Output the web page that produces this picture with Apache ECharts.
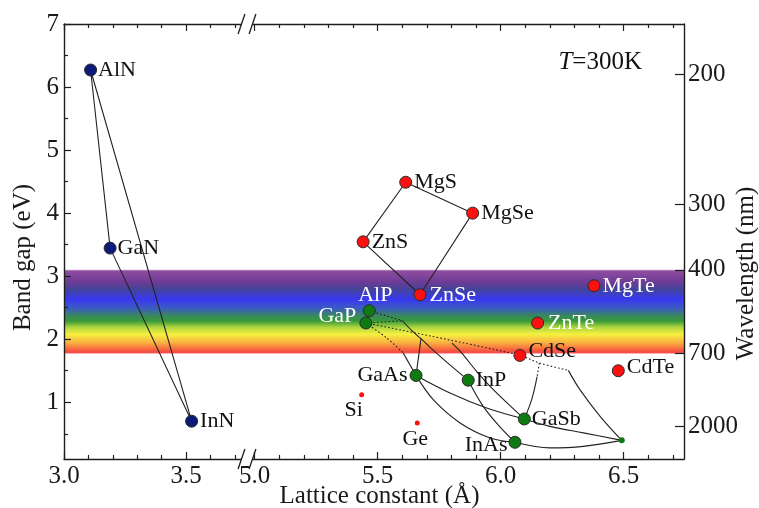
<!DOCTYPE html>
<html><head><meta charset="utf-8">
<script src="https://cdn.jsdelivr.net/npm/echarts@6/dist/echarts.min.js"></script>
<style>html,body{margin:0;padding:0;background:#fff}#c{width:759px;height:508px}</style>
</head><body><div id="c"></div>
<script>
// ---------------- data ----------------
const nitrideNames = ['AlN', 'GaN', 'InN'];
const nitrideA     = [3.109, 3.189, 3.523];
const nitrideGap   = [6.27, 3.445, 0.70];

const iiviNames = ['MgS', 'MgSe', 'ZnS', 'ZnSe', 'MgTe', 'ZnTe', 'CdSe', 'CdTe'];
const iiviA     = [5.614, 5.886, 5.441, 5.672, 6.379, 6.150, 6.078, 6.478];
const iiviGap   = [4.49, 4.00, 3.545, 2.705, 2.848, 2.257, 1.743, 1.50];

const iiivNames = ['AlP', 'GaP', 'GaAs', 'InP', 'GaSb', 'InAs'];
const iiivA     = [5.466, 5.452, 5.656, 5.868, 6.096, 6.058];
const iiivGap   = [2.452, 2.257, 1.426, 1.350, 0.735, 0.365];

const elemNames = ['Si', 'Ge'];
const elemA     = [5.435, 5.661];
const elemGap   = [1.12, 0.672];

const insbA   = [6.492];   // small unlabeled green point
const insbGap = [0.396];

// alloy lines: [lattice constant, gap]
const dotAlPJ1    = [[5.466, 2.452], [5.601, 2.293]];
const dotGaPJ1    = [[5.452, 2.257], [5.601, 2.293]];
const dotGaPJ3    = [[5.452, 2.257], [6.070, 1.754], [6.157, 1.623], [6.275, 1.506]];
const dotGaPGaAs  = [[5.452, 2.257], [5.537, 2.019], [5.604, 1.781]];
const solGaPGaAs  = [[5.604, 1.781], [5.631, 1.596], [5.656, 1.426]];
const solJ1InP    = [[5.601, 2.293], [5.639, 2.135], [5.676, 2.008], [5.737, 1.786], [5.802, 1.564], [5.868, 1.350]];
const solBrGaAs   = [[5.676, 2.008], [5.656, 1.426]];
const solToGaSb   = [[5.802, 1.937], [5.842, 1.781], [5.902, 1.490], [5.970, 1.200], [6.096, 0.735]];
const solGaAsGaSb = [[5.656, 1.426], [5.794, 1.147], [5.943, 0.910], [6.096, 0.735]];
const solGaAsInAs = [[5.656, 1.426], [5.726, 1.041], [5.835, 0.672], [5.957, 0.434], [6.058, 0.365]];
const solInPInAs  = [[5.868, 1.350], [5.929, 0.935], [5.997, 0.609], [6.058, 0.365]];
const dotJ2GaSb   = [[6.157, 1.623], [6.148, 1.406]];
const solJ2GaSb   = [[6.148, 1.406], [6.126, 1.041], [6.096, 0.735]];
const solJ3InSb   = [[6.275, 1.506], [6.322, 1.200], [6.404, 0.777], [6.492, 0.396]];
const solInAsInSb = [[6.058, 0.365], [6.200, 0.276], [6.336, 0.301], [6.492, 0.396]];
const solGaSbInSb = [[6.096, 0.735], [6.200, 0.618], [6.336, 0.514], [6.492, 0.396]];

// axes
const xMajorLeft  = [3.0, 3.5];
const xMinorLeft  = [3.1, 3.2, 3.3, 3.4, 3.6, 3.7];
const xMajorRight = [5.0, 5.5, 6.0, 6.5];
const xMinorRight = [5.1, 5.2, 5.3, 5.4, 5.6, 5.7, 5.8, 5.9, 6.1, 6.2, 6.3, 6.4, 6.6, 6.7];
const yMajor = [1, 2, 3, 4, 5, 6, 7];
const yMinor = [0.5, 1.5, 2.5, 3.5, 4.5, 5.5, 6.5];
const wavelengthTicks = [200, 300, 400, 700, 2000];   // nm
const visibleBand = [400, 700];                         // nm

// ---------------- chart ----------------
const FONT = "'Liberation Serif','Times New Roman',serif";
const AXC = '#1e1e1e';
const HC = 1240; // eV*nm
const wavePos = wavelengthTicks.map(l => HC / l);

function xAxes(gridIndex, min, max, major, minor, name) {
  const common = { gridIndex, type: 'value', min, max, splitLine: { show: false }, z: 10 };
  const line = { show: true, onZero: false, lineStyle: { color: AXC, width: 1.4 } };
  const tk = (vals, len) => ({ show: true, inside: true, length: len, customValues: vals, lineStyle: { color: AXC, width: 1.2 } });
  const bottom = Object.assign({}, common, {
    position: 'bottom', axisLine: line, axisTick: tk(major, 7),
    axisLabel: { show: true, customValues: major, formatter: v => v.toFixed(1), margin: 5, color: '#1a1a1a', fontFamily: FONT, fontSize: 25 }
  });
  if (name) {
    Object.assign(bottom, {
      name, nameLocation: 'middle', nameGap: 25, nameMoveOverlap: false,
      nameTextStyle: { fontFamily: FONT, fontSize: 25, color: '#1a1a1a', padding: [0, 172, 0, 0] }
    });
  }
  return [
    bottom,
    Object.assign({}, common, { position: 'bottom', axisLine: { show: false, onZero: false }, axisTick: tk(minor, 4), axisLabel: { show: false } }),
    Object.assign({}, common, { position: 'top', axisLine: line, axisTick: tk(major, 7), axisLabel: { show: false } }),
    Object.assign({}, common, { position: 'top', axisLine: { show: false, onZero: false }, axisTick: tk(minor, 4), axisLabel: { show: false } })
  ];
}

const xAxis = [].concat(
  xAxes(0, 3.0, 3.75, xMajorLeft, xMinorLeft, null),
  xAxes(1, 4.969, 6.745, xMajorRight, xMinorRight, 'Lattice constant (Å)')
);

const yAxis = [
  { gridIndex: 0, type: 'value', position: 'left', min: 0.1, max: 7, z: 10, splitLine: { show: false },
    axisLine: { show: true, onZero: false, lineStyle: { color: AXC, width: 1.4 } },
    axisTick: { show: true, inside: true, length: 7, customValues: yMajor, lineStyle: { color: AXC, width: 1.2 } },
    axisLabel: { show: true, customValues: yMajor, formatter: v => String(Math.round(v)), margin: 5, color: '#1a1a1a', fontFamily: FONT, fontSize: 25 },
    name: 'Band gap (eV)', nameLocation: 'middle', nameRotate: 90, nameGap: 28, nameMoveOverlap: false,
    nameTextStyle: { fontFamily: FONT, fontSize: 25, color: '#1a1a1a', padding: [0, 32, 0, 0] } },
  { gridIndex: 0, type: 'value', position: 'left', min: 0.1, max: 7, z: 10, splitLine: { show: false },
    axisLine: { show: false, onZero: false },
    axisTick: { show: true, inside: true, length: 4, customValues: yMinor, lineStyle: { color: AXC, width: 1.2 } },
    axisLabel: { show: false } },
  { gridIndex: 1, type: 'value', position: 'right', min: 0.1, max: 7, z: 10, splitLine: { show: false },
    axisLine: { show: true, onZero: false, lineStyle: { color: AXC, width: 1.4 } },
    axisTick: { show: true, inside: true, length: 9, customValues: wavePos, lineStyle: { color: AXC, width: 1.2 } },
    axisLabel: { show: true, customValues: wavePos, margin: 4, color: '#1a1a1a', fontFamily: FONT, fontSize: 25,
      formatter: v => { let bi = 0; wavePos.forEach((p, i) => { if (Math.abs(p - v) < Math.abs(wavePos[bi] - v)) bi = i; }); return String(wavelengthTicks[bi]); } },
    name: 'Wavelength (nm)', nameLocation: 'middle', nameRotate: 90, nameGap: 50, nameMoveOverlap: false,
    nameTextStyle: { fontFamily: FONT, fontSize: 25, color: '#1a1a1a', padding: [0, 64, 0, 0] } }
];

const rainbow = new echarts.graphic.LinearGradient(0, 0, 0, 1, [
  { offset: 0, color: '#c9a0d2' },
  { offset: 0.015, color: '#8f4c9f' },
  { offset: 0.15, color: '#6c3b96' },
  { offset: 0.23, color: '#434498' },
  { offset: 0.35, color: '#3838f0' },
  { offset: 0.46, color: '#3c5cc0' },
  { offset: 0.55, color: '#38885a' },
  { offset: 0.61, color: '#389a3a' },
  { offset: 0.69, color: '#b4d840' },
  { offset: 0.77, color: '#f6f040' },
  { offset: 0.87, color: '#f9b042' },
  { offset: 0.95, color: '#f8643e' },
  { offset: 0.985, color: '#f44848' },
  { offset: 1, color: '#ff9a9a' }
]);
const bandMark = {
  silent: true, z: 1,
  itemStyle: { color: rainbow },
  data: [[{ yAxis: HC / visibleBand[0] }, { yAxis: HC / visibleBand[1] }]]
};

const LG = { xAxisIndex: 4, yAxisIndex: 2 };
function lineS(pts, dotted, smooth, axes, extra) {
  return Object.assign({
    type: 'line', data: pts, showSymbol: false, symbol: 'none', silent: true, z: 3,
    smooth: smooth ? 0.35 : false,
    lineStyle: { color: '#222', width: 1.1, type: dotted ? [1.6, 2.2] : 'solid' }
  }, axes || LG, extra || {});
}

const labelCfg = {
  AlN: { position: 'right', distance: 1 },
  GaN: { position: 'right', distance: 1 },
  InN: { position: 'right', distance: 2 },
  MgS: { position: 'right', distance: 2 },
  MgSe: { position: 'right', distance: 2 },
  ZnS: { position: 'right', distance: 2 },
  ZnSe: { position: 'right', distance: 3, color: '#fff' },
  MgTe: { position: 'right', distance: 2, color: '#fff' },
  ZnTe: { position: 'right', distance: 4, color: '#fff' },
  CdSe: { position: 'right', distance: 2, offset: [0, -4] },
  CdTe: { position: 'right', distance: 2, offset: [0, -4] },
  AlP: { position: 'top', distance: -2, offset: [6, 0], color: '#fff' },
  GaP: { position: 'left', distance: 3, offset: [0, -7], color: '#fff' },
  GaAs: { position: 'left', distance: 2 },
  InP: { position: 'right', distance: 1 },
  GaSb: { position: 'right', distance: 1 },
  InAs: { position: 'left', distance: 1, offset: [0, 3] },
  Si: { position: 'bottom', distance: 2, offset: [-8, 0] },
  Ge: { position: 'bottom', distance: 3, offset: [-2, 0] }
};
function pts(names, a, g) {
  return names.map((n, i) => ({
    name: n, value: [a[i], g[i]],
    label: Object.assign({ show: true, formatter: '{b}', fontFamily: FONT, fontSize: 22, color: '#111' }, labelCfg[n] || {})
  }));
}
function scat(data, color, size, border, axes) {
  return Object.assign({
    type: 'scatter', data, symbolSize: size, z: 6, silent: true,
    itemStyle: { color, borderColor: border ? '#2a2a2a' : color, borderWidth: border ? 1 : 0, opacity: 1 }
  }, axes || LG);
}

const nit = i => [nitrideA[i], nitrideGap[i]];
const iv = n => { const i = iiviNames.indexOf(n); return [iiviA[i], iiviGap[i]]; };

const series = [
  lineS([nit(0), nit(1), nit(2), nit(0)], false, false, { xAxisIndex: 0, yAxisIndex: 0 }, { markArea: bandMark }),
  lineS([iv('MgS'), iv('MgSe'), iv('ZnSe'), iv('ZnS'), iv('MgS')], false, false, LG, { markArea: bandMark }),
  lineS(dotAlPJ1, true, false), lineS(dotGaPJ1, true, false), lineS(dotGaPJ3, true, true),
  lineS(dotGaPGaAs, true, true), lineS(solGaPGaAs, false, true),
  lineS(solJ1InP, false, true), lineS(solBrGaAs, false, false), lineS(solToGaSb, false, true),
  lineS(solGaAsGaSb, false, true), lineS(solGaAsInAs, false, true), lineS(solInPInAs, false, true),
  lineS(dotJ2GaSb, true, false), lineS(solJ2GaSb, false, true), lineS(solJ3InSb, false, true),
  lineS(solInAsInSb, false, true), lineS(solGaSbInSb, false, true),
  scat(pts(nitrideNames, nitrideA, nitrideGap), '#0c1a78', 12, true, { xAxisIndex: 0, yAxisIndex: 0 }),
  scat(pts(iiviNames, iiviA, iiviGap), '#ff1010', 12, true),
  scat(pts(iiivNames, iiivA, iiivGap), '#0f7a12', 12, true),
  scat(pts(elemNames, elemA, elemGap), '#ff1010', 5, false),
  scat(insbA.map((a, i) => [a, insbGap[i]]), '#0f7a12', 6, false)
];

const chart = echarts.init(document.getElementById('c'), null, { renderer: 'canvas' });
chart.setOption({
  animation: false,
  backgroundColor: '#fff',
  textStyle: { fontFamily: FONT },
  title: {
    text: '{i|T}=300K', right: 112, top: 45,
    textStyle: { fontFamily: FONT, fontSize: 25, fontWeight: 'normal', color: '#111',
      rich: { i: { fontFamily: FONT, fontSize: 25, fontStyle: 'italic', color: '#111' } } }
  },
  grid: [
    { left: 64, top: 24, width: 183, height: 435, outerBoundsMode: 'none', containLabel: false },
    { left: 247, top: 24, width: 437, height: 435, outerBoundsMode: 'none', containLabel: false }
  ],
  xAxis, yAxis, series
});

// axis-break decoration
const pTop = chart.convertToPixel({ xAxisIndex: 0, yAxisIndex: 0 }, [3.75, 7]);
const pBot = chart.convertToPixel({ xAxisIndex: 0, yAxisIndex: 0 }, [3.75, 0.1]);
const brk = [];
[pTop, pBot].forEach(p => {
  const xb = p[0], y = p[1];
  brk.push({ type: 'rect', z: 100, shape: { x: xb - 5.5, y: y - 2.5, width: 11, height: 5 }, style: { fill: '#fff' } });
  [-5.5, 5.5].forEach(d => brk.push({ type: 'line', z: 101,
    shape: { x1: xb + d - 3.4, y1: y + 10, x2: xb + d + 3.4, y2: y - 10 },
    style: { stroke: AXC, lineWidth: 1.3 } }));
});
chart.setOption({ graphic: brk });
</script>
</body></html>
